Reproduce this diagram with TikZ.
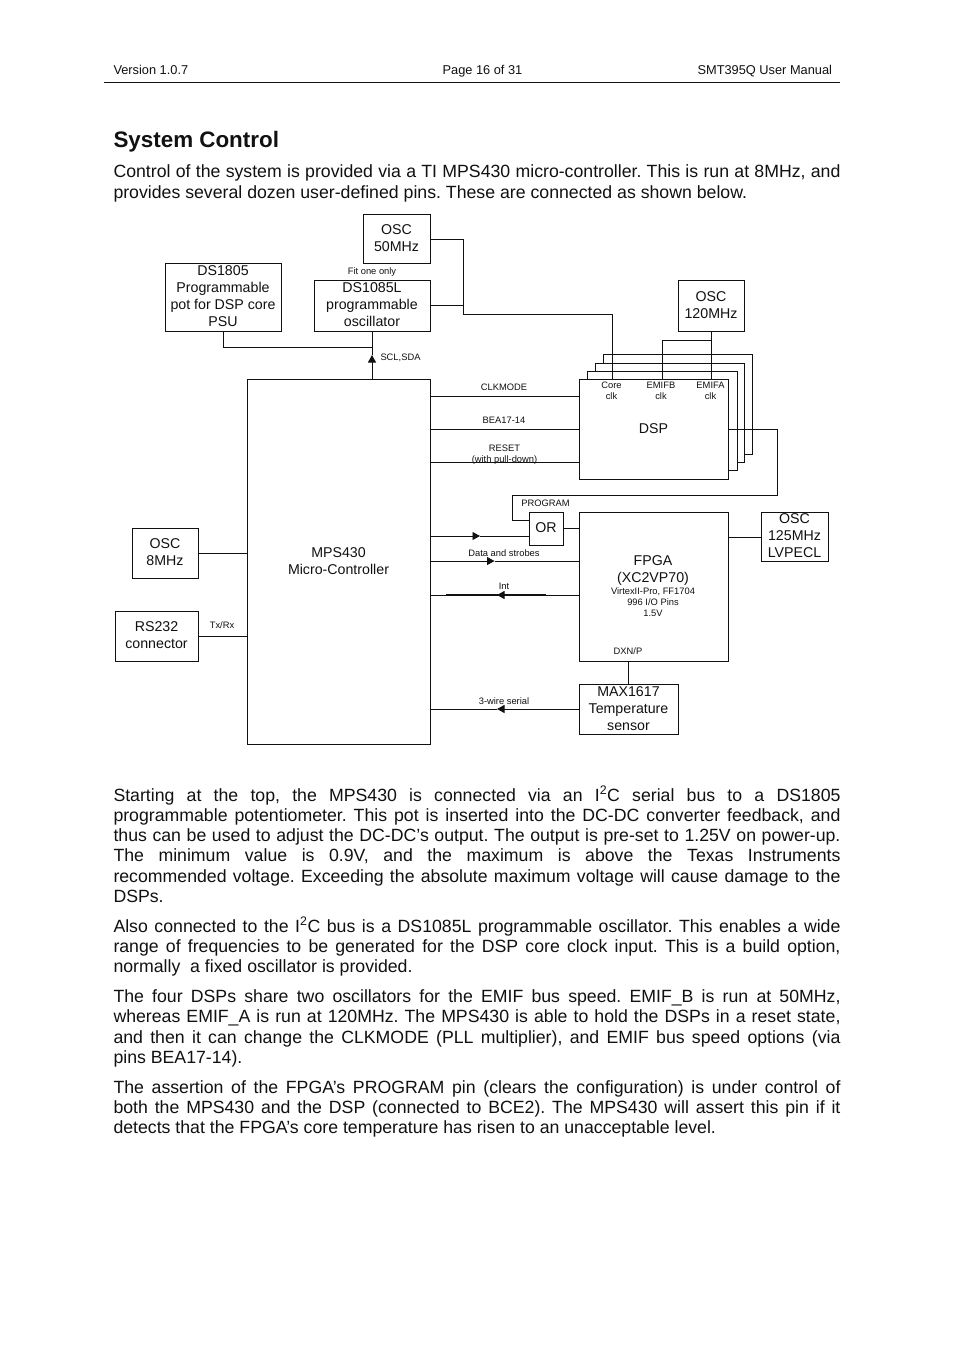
\documentclass[tikz,border=0pt]{standalone}
\usepackage{fontspec}
\setmainfont{Liberation Sans}
\usetikzlibrary{arrows.meta}
\definecolor{ink}{HTML}{111111}
\frenchspacing
\newcommand{\bodyf}{\fontsize{17.7}{20.2}\selectfont}
\newcommand{\boxf}{\fontsize{14.2}{17}\selectfont}
\newcommand{\tinyf}{\fontsize{9.35}{11}\selectfont}
\newcommand{\hdrf}{\fontsize{12.8}{15}\selectfont}
\newcommand{\lns}[2]{\smash{\raisebox{#1}{\begin{tabular}[c]{@{}c@{}}#2\end{tabular}}}}
% \bx{name}{x1}{y1}{x2}{y2}{text}
\newcommand{\bx}[6]{%
  \pgfmathsetmacro{\bw}{#4-#2}\pgfmathsetmacro{\bh}{#5-#3}%
  \pgfmathsetmacro{\cx}{(#2+#4)/2}\pgfmathsetmacro{\cy}{(#3+#5)/2}%
  \node[blk,minimum width=\bw pt,minimum height=\bh pt] (#1) at (\cx,\cy) {\boxf\lns{-4.5pt}{#6}};}
\newcommand{\jl}[3]{\node[para] (#1) at (113.5,#2) {\bodyf\makebox[727pt][s]{#3}};}
\newcommand{\pl}[3]{\node[para] (#1) at (113.5,#2) {\bodyf #3};}
\newcommand{\lab}[4]{\node[lbl] (#1) at (#2,#3) {\tinyf\lns{-3.5pt}{#4}};}
\tikzset{
  blk/.style={draw=ink,fill=white,line width=0.9pt,inner sep=0pt,outer sep=0pt,text=ink},
  para/.style={anchor=base west,inner sep=0pt,outer sep=0pt,text=ink},
  lbl/.style={inner sep=0pt,outer sep=0pt,text=ink},
  wire/.style={draw=ink,line width=0.9pt},
  tip/.style={-{Triangle[length=7.5pt,width=8pt]}},
}
\begin{document}
\begin{tikzpicture}[x=1pt,y=-1pt]
\useasboundingbox (0,0) rectangle (954,1350);
\fill[white] (0,0) rectangle (954,1350);
% header
\node[para] (hv) at (113.5,74) {\hdrf Version 1.0.7};
\node[para,anchor=base] (hp) at (482.5,74) {\hdrf Page 16 of 31};
\node[para,anchor=base east] (hm) at (832,74) {\hdrf SMT395Q User Manual};
\coordinate (rl) at (104,82.5);
\coordinate (rr) at (840,82.5);
\draw[ink,line width=1.1pt] (rl) -- (rr);
\node[para] (head) at (113.5,147.5) {\fontsize{22.4}{26}\selectfont\bfseries System Control};
\jl{i1}{177.5}{Control of the system is provided via a TI MPS430 micro-controller. This is run at 8MHz, and}
\pl{i2}{198}{provides several dozen user-defined pins. These are connected as shown below.}
% boxes
\bx{osca}{363}{214}{430}{263}{OSC\\50MHz}
\bx{prog}{314}{280}{430}{331}{DS1085L\\programmable\\oscillator}
\bx{pot}{165}{263}{281}{331}{DS1805\\Programmable\\pot for DSP core\\PSU}
\bx{oscb}{678}{280}{744}{331}{OSC\\120MHz}
\bx{mps}{247}{379}{430}{744}{MPS430\\Micro-Controller}
\bx{oscc}{132}{528}{198}{578}{OSC\\8MHz}
\bx{rs}{115}{611}{198}{661}{RS232\\connector}
\bx{dspd}{603}{354}{752}{454}{}
\bx{dspc}{595}{363}{744}{462}{}
\bx{dspb}{587}{371}{737}{470}{}
\bx{dsp}{579}{379}{728}{479}{DSP}
\bx{or}{529}{512}{563}{545}{OR}
\bx{fpga}{579}{512}{728}{661}{}
\bx{oscd}{761}{512}{828}{561}{OSC\\125MHz\\LVPECL}
\bx{max}{579}{684}{678}{734}{MAX1617\\Temperature\\sensor}
% FPGA text
\node[lbl] (fpt) at (653,574.5) {\boxf\lns{0pt}{FPGA\\(XC2VP70)}};
\lab{fps}{653}{602.5}{VirtexII-Pro, FF1704\\996 I/O Pins\\1.5V}
% wires: clocks
\coordinate (j1) at (463,305);
\coordinate (j2) at (463,314.5);
\coordinate (j3) at (463,239);
\coordinate (cc) at (612,379);
\draw[wire] (osca.east |- j3) -- (j3) -- (j2) -- (cc |- j2) -- (cc);
\draw[wire] (prog.east |- j1) -- (j1);
\coordinate (ea) at (711,379);
\coordinate (eb) at (662,379);
\coordinate (et) at (711,340);
\draw[wire] (oscb.south -| ea) -- (ea);
\draw[wire] (et) -- (eb |- et) -- (eb);
% I2C
\coordinate (i2c) at (372,347);
\coordinate (i2t) at (372,355);
\coordinate (pb) at (223,331);
\draw[wire] (pb) |- (i2c);
\draw[wire] (prog.south -| i2c) -- (i2c);
\draw[wire,tip] (mps.north -| i2c) -- (i2t);
\draw[wire] (i2t) -- (i2c);
% mps to dsp
\draw[wire] (mps.east |- 0,396) -- (dsp.west |- 0,396);
\draw[wire] (mps.east |- 0,429) -- (dsp.west |- 0,429);
\draw[wire] (mps.east |- 0,462) -- (dsp.west |- 0,462);
% program
\coordinate (p1) at (777,429);
\coordinate (p2) at (777,495);
\coordinate (p3) at (512,495);
\coordinate (p4) at (512,520.5);
\draw[wire] (dsp.east |- p1) -- (p1) -- (p2) -- (p3) -- (p4) -- (or.west |- p4);
\draw[wire] (or.east |- 0,528) -- (fpga.west |- 0,528);
\coordinate (a1) at (480,536);
\draw[wire,tip] (mps.east |- a1) -- (a1);
\draw[wire] (a1) -- (or.west |- a1);
\coordinate (a2) at (494.5,561);
\draw[wire,tip] (mps.east |- a2) -- (a2);
\draw[wire] (a2) -- (fpga.west |- a2);
\coordinate (a3) at (497,595);
\draw[wire,tip] (fpga.west |- a3) -- (a3);
\draw[wire] (a3) -- (mps.east |- a3);
\coordinate (t1) at (446,595);
\coordinate (t2) at (546,595);
\draw[ink,line width=1.6pt] (t1) -- (t2);
\coordinate (a4) at (497,709);
\draw[wire,tip] (max.west |- a4) -- (a4);
\draw[wire] (a4) -- (mps.east |- a4);
\draw[wire] (fpga.east |- 0,537) -- (oscd.west |- 0,537);
\draw[wire] (fpga.south -| 628,0) -- (max.north -| 628,0);
\draw[wire] (oscc.east |- 0,553) -- (mps.west |- 0,553);
\draw[wire] (rs.east |- 0,636) -- (mps.west |- 0,636);
% small labels
\lab{lf}{372}{271}{Fit one only}
\node[lbl,anchor=west] (ls) at (380.5,357.5) {\tinyf SCL,SDA};
\lab{lcc}{611.5}{390.5}{Core\\clk}
\lab{leb}{661}{390.5}{EMIFB\\clk}
\lab{lea}{710.5}{390.5}{EMIFA\\clk}
\lab{lck}{504}{387}{CLKMODE}
\lab{lbe}{504}{420}{BEA17-14}
\lab{lre}{504.5}{453.5}{RESET\\(with pull-down)}
\lab{lpr}{545.5}{503}{PROGRAM}
\lab{lda}{504}{553}{Data and strobes}
\lab{lin}{504}{586}{Int}
\lab{ldx}{628}{651.5}{DXN/P}
\lab{lwi}{504}{701}{3-wire serial}
\lab{ltx}{222}{625.5}{Tx/Rx}
% body text
\jl{a}{801}{Starting at the top, the MPS430 is connected via an I\textsuperscript{2}C serial bus to a DS1805}
\jl{b}{821}{programmable potentiometer. This pot is inserted into the DC-DC converter feedback, and}
\jl{c}{841}{thus can be used to adjust the DC-DC’s output. The output is pre-set to 1.25V on power-up.}
\jl{d}{861}{The minimum value is 0.9V, and the maximum is above the Texas Instruments}
\jl{e}{882}{recommended voltage. Exceeding the absolute maximum voltage will cause damage to the}
\pl{f}{902}{DSPs.}
\jl{g}{932}{Also connected to the I\textsuperscript{2}C bus is a DS1085L programmable oscillator. This enables a wide}
\jl{h}{952}{range of frequencies to be generated for the DSP core clock input. This is a build option,}
\pl{k}{972}{normally\ \ a fixed oscillator is provided.}
\jl{l}{1002}{The four DSPs share two oscillators for the EMIF bus speed. EMIF\_B is run at 50MHz,}
\jl{m}{1022}{whereas EMIF\_A is run at 120MHz. The MPS430 is able to hold the DSPs in a reset state,}
\jl{n}{1043}{and then it can change the CLKMODE (PLL multiplier), and EMIF bus speed options (via}
\pl{o}{1063}{pins BEA17-14).}
\jl{p}{1093}{The assertion of the FPGA’s PROGRAM pin (clears the configuration) is under control of}
\jl{q}{1113}{both the MPS430 and the DSP (connected to BCE2). The MPS430 will assert this pin if it}
\pl{r}{1133.5}{detects that the FPGA’s core temperature has risen to an unacceptable level.}
\end{tikzpicture}
\end{document}
